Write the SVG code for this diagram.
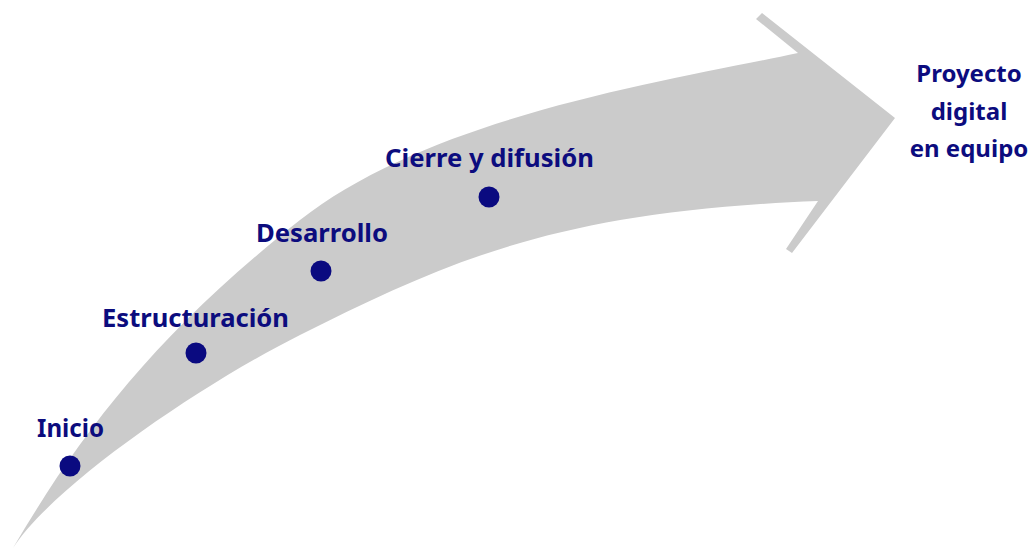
<svg xmlns="http://www.w3.org/2000/svg" width="1034" height="553" viewBox="0 0 1034 553">
<style>
.lbl{font-family:"Noto Sans","Open Sans","DejaVu Sans",sans-serif;font-weight:bold;font-size:25.5px;fill:#0c0c7e}
.end{font-size:24px;text-anchor:middle}
.dot{fill:#0a0a80}
</style>
<rect width="1034" height="553" fill="#ffffff"/>
<g id="connectors">
<path id="arrow" fill="#cbcbcb" d="M13,548 C82,431 157,333 300,220 C432,116 666,81 798,53 L756,19 L762,13 L895,118 L792,253 L786,249 L818,201 C558,211 450,260 300,335 C200,385 53,486 13,548 Z"/>
</g>
<g id="node-inicio">
<circle class="dot" cx="70" cy="466" r="10.5"/>
<text class="lbl" x="37" y="437" textLength="67" lengthAdjust="spacingAndGlyphs">Inicio</text>
</g>
<g id="node-estructuracion">
<circle class="dot" cx="196" cy="353" r="10.5"/>
<text class="lbl" x="102" y="327" textLength="187" lengthAdjust="spacingAndGlyphs">Estructuración</text>
</g>
<g id="node-desarrollo">
<circle class="dot" cx="321" cy="271" r="10.5"/>
<text class="lbl" x="256" y="242" textLength="132" lengthAdjust="spacingAndGlyphs">Desarrollo</text>
</g>
<g id="node-cierre">
<circle class="dot" cx="489" cy="197" r="10.5"/>
<text class="lbl" x="385" y="167" textLength="209" lengthAdjust="spacingAndGlyphs">Cierre y difusión</text>
</g>
<g id="node-proyecto">
<text class="lbl end" x="969" y="82">Proyecto</text>
<text class="lbl end" x="969" y="120">digital</text>
<text class="lbl end" x="969" y="157">en equipo</text>
</g>
</svg>
